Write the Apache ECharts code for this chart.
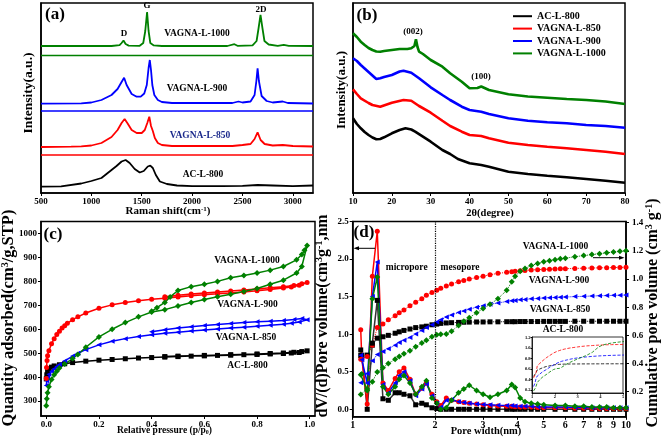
<!DOCTYPE html>
<html><head><meta charset="utf-8">
<script src="https://cdn.jsdelivr.net/npm/echarts@6/dist/echarts.min.js"></script>
<style>html,body{margin:0;padding:0;background:#fff}#c{width:661px;height:440px}</style>
</head><body><div id="c"></div>
<script>
// ---------- (a) Raman spectra (offset intensity, a.u.) ----------
const ramanAC800 = [[500,6.3],[700,6.6],[900,9.5],[1000,12],[1100,15],[1200,23],[1250,27],[1300,31.5],[1340,33],[1380,30],[1430,24],[1480,20.5],[1520,22],[1560,26.5],[1585,27.3],[1610,25],[1640,18],[1680,11.5],[1750,9],[1850,7.5],[2000,6.8],[2300,6.8],[2500,7.2],[2650,8],[2800,7.5],[3000,6.8],[3200,7.5]];
const ramanV850 = [[500,46],[800,46.3],[900,46.7],[1000,47.5],[1100,50],[1200,56],[1260,63],[1300,70],[1330,74],[1360,69.5],[1400,63],[1450,60],[1500,60],[1530,63],[1555,70],[1575,76.3],[1592,67],[1610,62],[1630,55],[1660,50],[1700,48],[1800,47],[2400,47],[2500,48],[2580,49],[2620,54],[2650,60.7],[2680,53],[2720,49],[2800,47.5],[2900,48],[3000,47],[3200,46.5]];
const ramanV900 = [[500,89.3],[900,89.6],[1000,90.5],[1100,93],[1200,98],[1260,104],[1300,111],[1325,115.3],[1350,108],[1400,99],[1450,96.3],[1490,96.3],[1525,99.5],[1550,108],[1568,125],[1580,133],[1592,123],[1605,108],[1625,98],[1660,93],[1700,91],[1800,90],[2400,90],[2460,91.5],[2500,90.5],[2580,91.5],[2620,98],[2638,112],[2650,124.7],[2663,112],[2690,97],[2740,92],[2800,90.5],[2900,91.5],[2950,90],[3200,89.5]];
const ramanV1000 = [[500,147],[1200,147],[1280,147.8],[1300,150],[1319,152.5],[1340,149],[1370,147.4],[1480,147.2],[1515,150],[1535,162],[1553,181],[1568,162],[1585,150],[1620,147.6],[1700,147],[2350,147],[2420,148.8],[2450,147.2],[2600,147.6],[2640,152],[2660,165],[2679,178],[2698,165],[2718,152],[2760,148.5],[2850,147.2],[2910,148.2],[2960,147.2],[3200,147]];
const ramanBaseLevels = [38, 82, 137.5];

// ---------- (b) XRD ----------
const xrdAC800 = [[10,74.7],[11,69],[12,64.7],[13,61],[14,58],[15,55.5],[16,53.7],[17,54],[18,55.7],[20,59.7],[22,63],[23.5,64.7],[25,63.5],[26,61.3],[28,56.3],[30,51.3],[33,43],[35,39],[37,34],[40,29.7],[43,28],[45,26.3],[50,21.3],[55,19],[60,17.3],[65,15.7],[70,14],[75,12.3],[80,10.3]];
const xrdV850 = [[10,103.7],[11,99],[12,94.7],[14,90],[15,88],[17,86.3],[20,90.3],[23,93],[25,92.3],[27,87],[30,80.3],[33,72.3],[35,67],[38,61.3],[40,58],[43,57],[45,54.7],[50,50.3],[55,48],[60,46.3],[65,44.7],[70,43],[75,41.3],[80,39]];
const xrdV900 = [[10,134.7],[11,132],[12,128],[14,121],[16,114],[17,114.7],[18,116],[20,118],[22,121.5],[23,122.3],[25,120.3],[27,114.7],[30,105.7],[33,98],[35,93],[38,86.3],[40,83],[43,81.3],[45,79],[50,74.7],[55,72.3],[60,70.7],[65,69.7],[70,68],[75,67],[80,65.3]];
const xrdV1000 = [[10,159.7],[11,156],[12,151.3],[13,148],[14,145],[15,143],[16,141.5],[17,141.3],[18,142],[20,143],[22,144],[24,144],[25,144.7],[25.8,147],[26.2,153.7],[26.6,146],[27,141.3],[28,139],[30,133],[33,126.3],[35,119.7],[38,111.3],[40,104.7],[42,105],[43,106.5],[45,103],[50,98.7],[55,96.5],[60,95.3],[65,94],[70,93],[75,91.5],[80,89]];

// ---------- (c) N2 isotherms (adsorption then desorption) ----------
const isoAC800 = [[0,393],[0.002,410],[0.005,425],[0.01,435],[0.02,442],[0.03,447],[0.05,452],[0.07,456],[0.1,461],[0.15,467],[0.2,471],[0.25,474],[0.3,477],[0.35,480],[0.4,482],[0.45,484],[0.5,486],[0.55,488],[0.6,489],[0.65,491],[0.7,492],[0.75,494],[0.8,495],[0.85,497],[0.9,499],[0.93,501],[0.96,503],[0.99,510],[0.97,507],[0.94,504],[0.9,501],[0.85,499],[0.8,497],[0.7,494],[0.6,491],[0.5,488],[0.45,486]];
const isoV900 = [[0,395],[0.001,440],[0.003,470],[0.005,490],[0.01,510],[0.02,540],[0.03,560],[0.04,578],[0.05,592],[0.06,605],[0.07,615],[0.08,625],[0.1,640],[0.12,652],[0.15,668],[0.2,688],[0.25,702],[0.3,712],[0.35,719],[0.4,725],[0.45,730],[0.5,735],[0.55,740],[0.6,744],[0.65,748],[0.7,752],[0.75,756],[0.8,761],[0.85,766],[0.9,772],[0.93,777],[0.96,784],[0.99,795],[0.97,790],[0.94,783],[0.9,778],[0.85,773],[0.8,768],[0.75,764],[0.7,760],[0.65,756],[0.6,752],[0.55,747],[0.5,742],[0.45,736]];
const isoV850 = [[0,365],[0.002,385],[0.005,400],[0.01,412],[0.02,425],[0.03,435],[0.04,445],[0.05,453],[0.07,468],[0.1,488],[0.12,500],[0.15,515],[0.2,535],[0.25,550],[0.3,561],[0.35,570],[0.4,577],[0.45,583],[0.5,588],[0.55,593],[0.6,597],[0.65,601],[0.7,605],[0.75,609],[0.8,613],[0.85,617],[0.9,621],[0.93,625],[0.96,630],[0.99,640],[0.97,645],[0.94,641],[0.9,637],[0.85,634],[0.8,631],[0.75,628],[0.7,624],[0.65,620],[0.6,616],[0.55,611],[0.5,605],[0.45,598],[0.4,590]];
const isoV1000 = [[0,281],[0.002,310],[0.005,335],[0.01,360],[0.02,390],[0.03,410],[0.04,425],[0.05,438],[0.07,455],[0.1,478],[0.12,495],[0.15,525],[0.2,568],[0.25,600],[0.3,628],[0.35,652],[0.4,672],[0.45,682],[0.5,697],[0.55,712],[0.6,724],[0.65,736],[0.7,746],[0.75,758],[0.8,770],[0.85,788],[0.9,805],[0.95,835],[0.97,862],[0.99,950],[0.98,930],[0.97,912],[0.95,890],[0.9,862],[0.85,847],[0.8,835],[0.75,825],[0.7,815],[0.65,800],[0.6,788],[0.55,778],[0.5,762],[0.47,735],[0.45,712],[0.42,690],[0.4,675]];

// ---------- (d) pore size distribution ----------
const dvWidth = [1.07,1.08,1.13,1.18,1.23,1.29,1.35,1.43,1.48,1.54,1.62,1.70,1.79,1.86,1.95,2.03,2.10,2.20,2.30,2.44,2.55,2.67,2.84,3.0,3.18,3.4,3.66,3.82,3.93,4.1,4.27,4.5,4.75,5.0,5.5,6.0,6.5,7.0,7.5,8.0,8.5,9.0,9.5,10];
const dvAC800 = [0.79,0.72,0.0,0.88,1.45,0.14,0.12,0.22,0.22,0.2,0.18,0.06,0.08,0.06,0.02,0.01,0,0,0,0,0,0,0,0,0,0,0,0,0,0,0,0,0,0,0,0,0,0,0,0,0,0,0,0];
const dvV850 = [1.06,0.67,0.07,1.77,2.37,0.35,0.25,0.41,0.5,0.55,0.4,0.2,0.28,0.35,0.2,0.1,0.05,0.15,0.12,0.1,0.09,0.08,0.07,0.06,0.05,0.045,0.04,0.04,0.035,0.03,0.03,0.03,0.025,0.02,0.02,0.02,0.015,0.015,0.01,0.01,0.01,0.01,0.01,0.01];
const dvV900 = [0.72,0.66,0.35,1.5,1.96,0.33,0.22,0.35,0.45,0.5,0.38,0.18,0.27,0.34,0.18,0.08,0.03,0.12,0.13,0.1,0.09,0.08,0.07,0.065,0.06,0.055,0.05,0.05,0.045,0.04,0.04,0.04,0.035,0.03,0.03,0.03,0.025,0.025,0.02,0.02,0.02,0.02,0.02,0.02];
const dvV1000 = [0.46,0.47,0.25,1.47,1.76,0.3,0.2,0.3,0.4,0.45,0.35,0.2,0.3,0.38,0.15,0.08,0.0,0.02,0.12,0.22,0.27,0.32,0.25,0.2,0.16,0.2,0.25,0.33,0.29,0.15,0.1,0.08,0.07,0.06,0.05,0.05,0.04,0.04,0.03,0.03,0.03,0.02,0.02,0.02];

const cumWidth = [1.07,1.13,1.18,1.23,1.29,1.35,1.43,1.48,1.54,1.62,1.70,1.79,1.86,1.95,2.03,2.10,2.20,2.30,2.44,2.55,2.67,2.84,3.0,3.18,3.4,3.66,3.82,3.93,4.1,4.27,4.5,4.75,5.0,5.25,5.5,5.75,6.0,6.5,7.0,7.5,8.0,8.5,9.0,9.5,10];
const cumAC800 = [0.457,0.46,0.53,0.58,0.59,0.6,0.615,0.625,0.635,0.645,0.655,0.66,0.665,0.675,0.68,0.685,0.688,0.69,0.692,0.693,0.694,0.695,0.695,0.696,0.696,0.697,0.697,0.697,0.698,0.698,0.698,0.698,0.699,0.699,0.699,0.699,0.699,0.7,0.7,0.7,0.7,0.7,0.7,0.7,0.7];
const cumV850 = [0.43,0.45,0.53,0.655,0.68,0.71,0.74,0.76,0.78,0.81,0.835,0.86,0.885,0.905,0.92,0.935,0.95,0.965,0.98,0.99,1.0,1.01,1.02,1.03,1.04,1.047,1.052,1.055,1.058,1.061,1.064,1.066,1.068,1.07,1.071,1.072,1.073,1.075,1.077,1.078,1.079,1.08,1.081,1.082,1.083];
const cumV900 = [0.264,0.33,0.42,0.464,0.485,0.505,0.53,0.55,0.565,0.585,0.61,0.635,0.655,0.675,0.695,0.71,0.73,0.745,0.762,0.773,0.785,0.8,0.81,0.82,0.83,0.84,0.845,0.848,0.852,0.855,0.859,0.862,0.865,0.867,0.869,0.871,0.872,0.875,0.877,0.879,0.881,0.882,0.884,0.885,0.886];
const cumV1000 = [0.18,0.22,0.27,0.34,0.37,0.4,0.43,0.45,0.47,0.49,0.52,0.545,0.565,0.59,0.605,0.607,0.61,0.63,0.67,0.7,0.725,0.76,0.79,0.82,0.86,0.92,0.98,1.02,1.055,1.075,1.095,1.11,1.122,1.13,1.137,1.143,1.148,1.158,1.166,1.173,1.18,1.186,1.191,1.196,1.2];

// ---------- tick labels ----------
const ramanTicks = [500,1000,1500,2000,2500,3000];
const xrdTicks = [10,20,30,40,50,60,70,80];
const pressureTicks = [0,0.2,0.4,0.6,0.8,1.0];
const quantityTicks = [300,400,500,600,700,800,900,1000];
const widthTicks = [1,2,3,4,5,6,7,8,9,10];
const dvTicks = [0,0.5,1.0,1.5,2.0,2.5];
const cumTicks = [0.2,0.4,0.6,0.8,1.0,1.2,1.4];
const insetXTicks = [1,2,3,4,5];
const insetYTicks = [0.2,0.4,0.6,0.8,1.0,1.2];

const names = ['AC-L-800','VAGNA-L-850','VAGNA-L-900','VAGNA-L-1000'];
const colors = ['#000000','#ff0000','#0000ff','#008000'];
const F = '"Liberation Serif","Times New Roman",serif';

const zip = (xs, ys) => xs.map((x, i) => [x, ys[i]]);
const f0 = v => String(Math.round(Number(v)));
const f1 = v => Number(v).toFixed(1);

function axis(gridIndex, o) {
  const a = {
    gridIndex, type: o.type || 'value', min: o.min, max: o.max, position: o.position,
    axisLine: { show: true, onZero: false, lineStyle: { color: '#000', width: o.lw || 1.5 } },
    axisTick: { show: !!o.ticks, length: o.tickLen || 3, inside: false, lineStyle: { color: '#000', width: 1 } },
    axisLabel: { show: !!o.ticks, color: '#000', fontFamily: F, fontWeight: 'bold', fontSize: o.fs || 9, margin: o.margin || 4 },
    splitLine: { show: false }
  };
  if (o.logBase) a.logBase = o.logBase;
  if (o.ticks) {
    a.axisTick.customValues = o.ticks;
    a.axisLabel.customValues = o.ticks;
    a.axisLabel.formatter = o.fmt || f0;
  }
  return a;
}

const grids = [
  { left: 41, top: 3, width: 272, height: 190 },
  { left: 353, top: 3, width: 272, height: 190 },
  { left: 41, top: 221.5, width: 274, height: 194.5 },
  { left: 352.7, top: 221.5, width: 273.3, height: 195.3 },
  { left: 532, top: 337, width: 91, height: 56, backgroundColor: '#fff', borderWidth: 0.8 }
].map(g => Object.assign({ show: true, borderColor: '#000', borderWidth: 1.5, outerBoundsMode: 'none', containLabel: false }, g));

const xAxes = [
  axis(0, { min: 500, max: 3200, ticks: ramanTicks }),
  axis(1, { min: 10, max: 80, ticks: xrdTicks }),
  axis(2, { min: -0.02, max: 1.02, ticks: pressureTicks, fmt: f1 }),
  axis(3, { type: 'log', logBase: 10, min: 1, max: 10, ticks: widthTicks, fs: 10 }),
  axis(4, { min: 1, max: 5, ticks: insetXTicks, fs: 4.5, tickLen: 1.5, margin: 1.5, lw: 0.8 })
];
const yAxes = [
  axis(0, { min: 0, max: 190 }),
  axis(1, { min: 0, max: 190 }),
  axis(2, { min: 238, max: 1050, ticks: quantityTicks }),
  axis(3, { min: -0.1, max: 2.5, ticks: dvTicks, fmt: f1 }),
  axis(3, { min: 0.022, max: 1.408, ticks: cumTicks, fmt: f1, position: 'right', margin: 6 }),
  axis(4, { min: 0.14, max: 1.21, ticks: insetYTicks, fmt: f1, fs: 4.5, tickLen: 1.5, margin: 1.5, lw: 0.8 })
];

const series = [];
// (a)
[ramanAC800, ramanV850, ramanV900, ramanV1000].forEach((d, i) => series.push({
  name: 'Raman ' + names[i], type: 'line', xAxisIndex: 0, yAxisIndex: 0, data: d,
  showSymbol: false, lineStyle: { color: colors[i], width: 1.8 }, itemStyle: { color: colors[i] }
}));
ramanBaseLevels.forEach((lv, i) => series.push({
  name: 'Raman base ' + names[i + 1], type: 'line', xAxisIndex: 0, yAxisIndex: 0,
  data: [[500, lv], [3200, lv]], showSymbol: false, lineStyle: { color: colors[i + 1], width: 1.5 }
}));
// (b)
[xrdAC800, xrdV850, xrdV900, xrdV1000].forEach((d, i) => series.push({
  name: names[i], type: 'line', xAxisIndex: 1, yAxisIndex: 1, data: d,
  showSymbol: false, lineStyle: { color: colors[i], width: 2.6 }, itemStyle: { color: colors[i] }
}));
// (c)
const syms = ['rect', 'circle', 'triangle', 'diamond'];
const rots = [0, 0, 90, 0];
[[isoAC800, 0], [isoV850, 2], [isoV900, 1], [isoV1000, 3]].forEach(([d, ci], k) => series.push({
  name: 'Iso ' + names[k], type: 'line', xAxisIndex: 2, yAxisIndex: 2, data: d,
  symbol: syms[ci], symbolRotate: rots[ci], symbolSize: ci === 3 ? 6 : 5,
  lineStyle: { color: colors[ci], width: 1.5 }, itemStyle: { color: colors[ci] }
}));
// (d) cumulative (right axis)
[cumAC800, cumV850, cumV900, cumV1000].forEach((d, i) => series.push({
  name: 'Cum ' + names[i], type: 'line', xAxisIndex: 3, yAxisIndex: 4, data: zip(cumWidth, d),
  symbol: syms[i], symbolRotate: rots[i], symbolSize: i === 3 ? 6 : 5,
  lineStyle: { color: colors[i], width: 1, type: 'dotted' }, itemStyle: { color: colors[i] }
}));
// (d) dV (left axis)
[dvAC800, dvV850, dvV900, dvV1000].forEach((d, i) => {
  const s = {
    name: 'dV ' + names[i], type: 'line', xAxisIndex: 3, yAxisIndex: 3, data: zip(dvWidth, d),
    symbol: syms[i], symbolRotate: rots[i], symbolSize: i === 3 ? 6 : 5,
    lineStyle: { color: i === 0 ? '#333' : colors[i], width: 1.5 }, itemStyle: { color: colors[i] }
  };
  if (i === 0) s.markLine = { silent: true, symbol: ['none', 'none'], label: { show: false },
    lineStyle: { color: '#000', type: 'dotted', width: 1.2 }, data: [{ xAxis: 2 }] };
  series.push(s);
});
// inset
[cumAC800, cumV850, cumV900, cumV1000].forEach((d, i) => series.push({
  name: 'Inset ' + names[i], type: 'line', xAxisIndex: 4, yAxisIndex: 5, data: zip(cumWidth, d),
  showSymbol: false, lineStyle: { color: colors[i], width: 0.8, type: 'dashed' }
}));

function T(x, y, text, size, o) {
  o = o || {};
  const el = { type: 'text', x, y, z: 100, rotation: o.rot || 0,
    style: { text, fill: o.color || '#000', font: 'bold ' + size + 'px ' + F,
      align: o.align || 'center', verticalAlign: 'middle' } };
  if (o.rich) el.style.rich = o.rich;
  return el;
}
function rich(size, col) {
  const b = { fontFamily: F, fontWeight: 'bold', fill: col || '#000', color: col || '#000' };
  return {
    n: Object.assign({ fontSize: size }, b),
    sup: Object.assign({ fontSize: Math.round(size * 0.62), padding: [0, 0, Math.round(size * 0.45), 0] }, b),
    sub: Object.assign({ fontSize: Math.round(size * 0.62), padding: [Math.round(size * 0.4), 0, 0, 0] }, b)
  };
}
const R = Math.PI / 2;
const graphic = [
  // panel tags
  T(55, 15, '(a)', 17), T(367, 16, '(b)', 17), T(53, 234.5, '(c)', 17), T(364, 232.5, '(d)', 17),
  // (a)
  T(124, 34, 'D', 9), T(147, 6, 'G', 9), T(261, 10, '2D', 9),
  T(197, 34, 'VAGNA-L-1000', 9.5), T(197, 89, 'VAGNA-L-900', 9.5),
  T(200, 136, 'VAGNA-L-850', 9.5, { color: '#1c2a8c' }), T(203, 175, 'AC-L-800', 9.5),
  T(28.5, 93, 'Intensity(a.u.)', 13.5, { rot: R }),
  T(168, 211.5, '{n|Raman shift(cm}{sup|-1}{n|)}', 11, { rich: rich(11) }),
  // (b)
  T(413, 32, '(002)', 9), T(481, 77, '(100)', 9),
  T(341.5, 90, 'Intensity(a.u.)', 13, { rot: R }),
  T(490, 213.5, '2θ(degree)', 10.5),
  // (c)
  T(247, 260.7, 'VAGNA-L-1000', 9.5), T(247.5, 305, 'VAGNA-L-900', 9.5),
  T(246, 337.3, 'VAGNA-L-850', 9.5), T(247.5, 365.7, 'AC-L-800', 9.5),
  T(9, 318, '{n|Quantity adsorbed(cm}{sup|3}{n|/g,STP)}', 16.5, { rot: R, rich: rich(16.5) }),
  T(164.5, 430.7, '{n|Relative pressure (p/p}{sub|0}{n|)}', 9.5, { rich: rich(9.5) }),
  // (d)
  T(555.5, 246.7, 'VAGNA-L-1000', 9.5), T(559, 281, 'VAGNA-L-900', 9.5),
  T(560, 309.3, 'VAGNA-L-850', 9.5), T(563, 330, 'AC-L-800', 9.5),
  T(406.7, 267.7, 'micropore', 9.5), T(460, 267.7, 'mesopore', 9.5),
  T(323, 316, '{n|dV/(d)Pore volume(cm}{sup|3}{n|g}{sup|-1}{n|,nm}', 16, { rot: R, rich: rich(16) }),
  T(653, 313, '{n|Cumulative pore volume (cm}{sup|3}{n| g}{sup|-1}{n|)}', 16, { rot: R, rich: rich(16) }),
  T(486, 431.7, 'Pore width(nm)', 10.5),
  // arrows
  { type: 'line', z: 100, shape: { x1: 375, y1: 248.3, x2: 356, y2: 248.3 }, style: { stroke: '#000', lineWidth: 1 } },
  { type: 'polygon', z: 100, shape: { points: [[353.5, 248.3], [359, 246.3], [359, 250.3]] }, style: { fill: '#000' } },
  { type: 'line', z: 100, shape: { x1: 593, y1: 257.7, x2: 620, y2: 257.7 }, style: { stroke: '#000', lineWidth: 1 } },
  { type: 'polygon', z: 100, shape: { points: [[624.5, 257.7], [619, 255.7], [619, 259.7]] }, style: { fill: '#000' } }
];

const chart = echarts.init(document.getElementById('c'), null, { renderer: 'canvas' });
chart.setOption({
  animation: false,
  backgroundColor: '#fff',
  textStyle: { fontFamily: F },
  grid: grids,
  xAxis: xAxes,
  yAxis: yAxes,
  legend: {
    data: names, orient: 'vertical', left: 508, top: 5, padding: 5,
    itemWidth: 19, itemHeight: 2, itemGap: 0, icon: 'rect',
    textStyle: { fontFamily: F, fontWeight: 'bold', fontSize: 10, lineHeight: 12.4, color: '#000' }
  },
  series,
  graphic
});
</script></body></html>
